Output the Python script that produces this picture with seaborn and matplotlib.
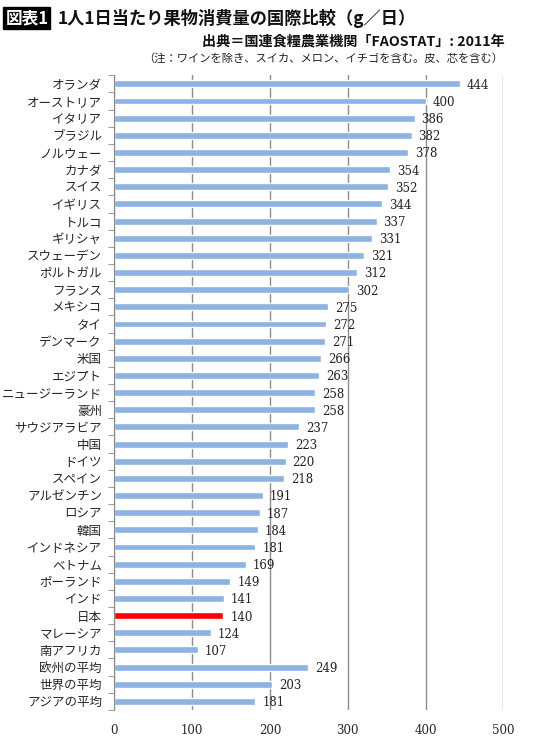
import matplotlib
matplotlib.use("Agg")
import matplotlib.pyplot as plt
import numpy as np
import pandas as pd
import seaborn as sns

# data
countries = ["オランダ", "オーストリア", "イタリア", "ブラジル", "ノルウェー", "カナダ",
             "スイス", "イギリス", "トルコ", "ギリシャ", "スウェーデン", "ポルトガル",
             "フランス", "メキシコ", "タイ", "デンマーク", "米国", "エジプト",
             "ニュージーランド", "豪州", "サウジアラビア", "中国", "ドイツ", "スペイン",
             "アルゼンチン", "ロシア", "韓国", "インドネシア", "ベトナム", "ポーランド",
             "インド", "日本", "マレーシア", "南アフリカ", "欧州の平均", "世界の平均",
             "アジアの平均"]
grams = [444, 400, 386, 382, 378, 354, 352, 344, 337, 331, 321, 312, 302, 275,
         272, 271, 266, 263, 258, 258, 237, 223, 220, 218, 191, 187, 184, 181,
         169, 149, 141, 140, 124, 107, 249, 203, 181]
highlight = "日本"
xticks = [0, 100, 200, 300, 400, 500]

df = pd.DataFrame({"country": countries, "g": grams})
palette = {c: ("#ff0000" if c == highlight else "#8db3e2") for c in countries}

sns.set_style("white")
plt.rcParams["font.family"] = ["Noto Sans CJK JP", "DejaVu Sans"]

fig = plt.figure(figsize=(5.4, 7.38), dpi=100)
ax = fig.add_axes([0.212, 0.038, 0.72, 0.86])

sns.barplot(data=df, x="g", y="country", hue="country", palette=palette,
            width=0.4, legend=False, ax=ax, saturation=1)

for p, v in zip(ax.patches, grams):
    ax.annotate(str(v), (p.get_width(), p.get_y() + p.get_height() / 2),
                xytext=(5, -1), textcoords="offset points", ha="left", va="center",
                fontsize=8.5, family="DejaVu Serif", color="#222222")

ax.set_xlim(0, 500)
ax.set_ylim(len(countries) - 0.5, -0.5)
ax.set_xticks(xticks)
ax.set_xticklabels([str(t) for t in xticks], family="DejaVu Serif", fontsize=8.5)
ax.xaxis.grid(True, color="#8c8c8c", lw=1)
ax.set_axisbelow(True)
ax.set_yticks(np.arange(-0.5, len(countries), 1), minor=True)
ax.tick_params(axis="y", which="major", length=0, pad=9, labelsize=9)
ax.tick_params(axis="y", which="minor", length=4, color="#888888", left=True)
ax.tick_params(axis="x", length=0, pad=10)
ax.set_xlabel("")
ax.set_ylabel("")
for s in ["top", "right", "bottom"]:
    ax.spines[s].set_visible(False)
ax.spines["left"].set_color("#888888")

fig.text(0.01, 0.9756, "図表1", color="white", fontsize=12, fontweight="bold",
         va="center", ha="left",
         bbox=dict(boxstyle="square,pad=0.12", fc="black", ec="black"))
fig.text(0.107, 0.9756, "1人1日当たり果物消費量の国際比較（g／日）", fontsize=12.4,
         fontweight="bold", va="center", ha="left", color="#111111")
fig.text(0.935, 0.944, "出典＝国連食糧農業機関「FAOSTAT」: 2011年", fontsize=10.2,
         fontweight="bold", va="center", ha="right", color="#111111")
fig.text(0.932, 0.921, "（注：ワインを除き、スイカ、メロン、イチゴを含む。皮、芯を含む）",
         fontsize=8.1, va="center", ha="right", color="#222222")

fig.savefig("out.png", dpi=100)
